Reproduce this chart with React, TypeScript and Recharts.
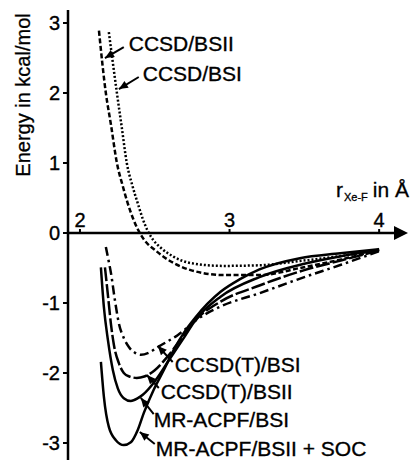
import { Line, LineChart, ReferenceDot, ReferenceLine, XAxis, YAxis } from "recharts";

const FONT = "'Liberation Sans', Arial, Helvetica, sans-serif";

// [r in Å, energy in kcal/mol]
const ccsdBSII = [[2.127, 2.89], [2.173, 2.0], [2.207, 1.55], [2.247, 1.0], [2.285, 0.68], [2.32, 0.42], [2.36, 0.18], [2.4, 0], [2.45, -0.15], [2.5, -0.24], [2.54, -0.31], [2.627, -0.43], [2.74, -0.53], [2.96, -0.6], [3.21, -0.6], [3.47, -0.5], [3.74, -0.38], [4.0, -0.24]];
const ccsdBSI = [[2.193, 2.87], [2.247, 2.0], [2.28, 1.5], [2.313, 1.0], [2.35, 0.68], [2.387, 0.42], [2.42, 0.2], [2.453, 0.03], [2.49, -0.1], [2.54, -0.21], [2.627, -0.34], [2.74, -0.43], [2.96, -0.47], [3.21, -0.46], [3.47, -0.4], [3.74, -0.33], [4.0, -0.24]];
const ccsdtBSI = [[2.173, -0.2], [2.19, -0.38], [2.207, -0.57], [2.233, -0.95], [2.26, -1.29], [2.293, -1.5], [2.327, -1.63], [2.367, -1.71], [2.407, -1.74], [2.46, -1.71], [2.52, -1.63], [2.653, -1.46], [2.807, -1.2], [2.94, -1.05], [3.2, -0.86], [3.5, -0.63], [3.75, -0.45], [4.0, -0.26]];
const ccsdtBSII = [[2.167, -0.49], [2.19, -0.95], [2.207, -1.3], [2.227, -1.6], [2.26, -1.86], [2.293, -2.0], [2.33, -2.05], [2.38, -2.07], [2.43, -2.05], [2.5, -1.96], [2.58, -1.78], [2.67, -1.53], [2.77, -1.25], [2.94, -0.98], [3.2, -0.75], [3.5, -0.53], [3.75, -0.39], [4.0, -0.25]];
const mrBSI = [[2.14, -0.49], [2.16, -1.06], [2.187, -1.53], [2.22, -1.96], [2.253, -2.22], [2.293, -2.36], [2.34, -2.4], [2.387, -2.36], [2.42, -2.31], [2.5, -2.12], [2.6, -1.8], [2.7, -1.48], [2.77, -1.25], [2.94, -0.91], [3.2, -0.63], [3.5, -0.44], [3.75, -0.33], [4.0, -0.24]];
const mrBSIIsoc = [[2.14, -1.84], [2.16, -2.34], [2.193, -2.77], [2.24, -2.96], [2.293, -3.03], [2.34, -2.99], [2.387, -2.81], [2.427, -2.57], [2.493, -2.24], [2.56, -1.96], [2.627, -1.67], [2.693, -1.43], [2.77, -1.21], [2.94, -0.84], [3.07, -0.66], [3.2, -0.52], [3.47, -0.36], [3.74, -0.29], [4.0, -0.23]];

const yTicks = [-3, -2, -1, 0, 1, 2, 3];
const xTicks = [2, 3, 4];

const series = [
	{ name: "CCSD/BSII", points: ccsdBSII, dash: "5 2.5" },
	{ name: "CCSD/BSI", points: ccsdBSI, dash: "2 2" },
	{ name: "CCSD(T)/BSI", points: ccsdtBSI, dash: "9 4 2.5 4" },
	{ name: "CCSD(T)/BSII", points: ccsdtBSII, dash: "14 3" },
	{ name: "MR-ACPF/BSI", points: mrBSI, dash: undefined },
	{ name: "MR-ACPF/BSII + SOC", points: mrBSIIsoc, dash: undefined },
];

// label arrows: tail -> tip, in data units; text offset from the tail in px
const notes = [
	{ text: "CCSD/BSII", tail: [2.293, 2.657], tip: [2.167, 2.5], dx: 5, dy: 4 },
	{ text: "CCSD/BSI", tail: [2.393, 2.229], tip: [2.26, 2.057], dx: 4, dy: 4 },
	{ text: "CCSD(T)/BSI", tail: [2.62, -1.843], tip: [2.52, -1.614], dx: 2, dy: 10 },
	{ text: "CCSD(T)/BSII", tail: [2.527, -2.214], tip: [2.447, -2.029], dx: 2, dy: 11 },
	{ text: "MR-ACPF/BSI", tail: [2.493, -2.586], tip: [2.407, -2.357], dx: 0, dy: 13 },
	{ text: "MR-ACPF/BSII + SOC", tail: [2.5, -3.014], tip: [2.4, -2.843], dx: 1, dy: 12 },
];

const toRows = (pts: number[][]) => pts.map(([r, e]) => ({ r, e }));

function arrowHead(x1: number, y1: number, x2: number, y2: number, len: number, half: number) {
	const a = Math.atan2(y2 - y1, x2 - x1);
	const bx = x2 - len * Math.cos(a);
	const by = y2 - len * Math.sin(a);
	const nx = -Math.sin(a) * half;
	const ny = Math.cos(a) * half;
	return `${x2},${y2} ${bx + nx},${by + ny} ${bx - nx},${by - ny}`;
}

const noteShape = (text: string, dx: number, dy: number) => (p: any) => {
	const { x1, y1, x2, y2 } = p;
	return (
		<g>
			<line x1={x1} y1={y1} x2={x2} y2={y2} stroke="#000" strokeWidth={2} />
			<polygon points={arrowHead(x1, y1, x2, y2, 9, 4)} fill="#000" />
			<text x={x1 + dx} y={y1 + dy} fontSize={21} fontFamily={FONT} fill="#000" stroke="#000" strokeWidth={0.35}>
				{text}
			</text>
		</g>
	);
};

const axisShape = (p: any) => {
	const { x1, y1, x2, y2 } = p;
	return (
		<g>
			<line x1={x1} y1={y1} x2={x2 - 8} y2={y2} stroke="#000" strokeWidth={2.5} />
			<polygon points={arrowHead(x1, y1, x2, y2, 14, 7)} fill="#000" />
		</g>
	);
};

export default function App() {
	return (
		<div style={{ position: "absolute", left: 0, top: 0, width: 412, height: 464, background: "#fff" }}>
			<LineChart width={412} height={464} margin={{ top: 10, right: 4, bottom: 4, left: 0 }}>
				<XAxis type="number" dataKey="r" domain={[1.92, 4.193]} allowDataOverflow hide />
				<YAxis
					type="number"
					domain={[-3.243, 3.186]}
					allowDataOverflow
					ticks={yTicks}
					width={68}
					tickSize={5}
					tickMargin={3}
					axisLine={{ stroke: "#000", strokeWidth: 2.5 }}
					tickLine={{ stroke: "#000", strokeWidth: 2 }}
					tick={{ fill: "#000", fontSize: 20, fontFamily: FONT, stroke: "#000", strokeWidth: 0.35 }}
				/>
				<ReferenceLine segment={[{ x: 1.92, y: 0 }, { x: 4.193, y: 0 }]} shape={axisShape} ifOverflow="visible" />
				{xTicks.map((t) => (
					<ReferenceDot
						key={t}
						x={t}
						y={0}
						r={2}
						ifOverflow="visible"
						shape={(p: any) => (
							<g>
								<line x1={p.cx} x2={p.cx} y1={p.cy - 4} y2={p.cy} stroke="#000" strokeWidth={2} />
								<text x={p.cx} y={p.cy - 6} textAnchor="middle" fontSize={20} fontFamily={FONT} fill="#000" stroke="#000" strokeWidth={0.35}>
									{t}
								</text>
							</g>
						)}
					/>
				))}
				{series.map((s) => (
					<Line
						key={s.name}
						data={toRows(s.points)}
						dataKey="e"
						type="monotone"
						stroke="#000"
						strokeWidth={2.5}
						strokeDasharray={s.dash}
						dot={false}
						activeDot={false}
						isAnimationActive={false}
					/>
				))}
				{notes.map((n) => (
					<ReferenceLine
						key={n.text}
						segment={[{ x: n.tail[0], y: n.tail[1] }, { x: n.tip[0], y: n.tip[1] }]}
						shape={noteShape(n.text, n.dx, n.dy)}
						ifOverflow="visible"
					/>
				))}
			</LineChart>
			<svg width={412} height={464} style={{ position: "absolute", left: 0, top: 0, pointerEvents: "none" }}>
				<text
					x={23}
					y={95}
					transform="rotate(-90 23 95)"
					textAnchor="middle"
					dominantBaseline="central"
					fontSize={20}
					fontFamily={FONT}
					fill="#000"
					stroke="#000"
					strokeWidth={0.3}
				>
					Energy in kcal/mol
				</text>
				<text x={336} y={197} fontSize={21} fontFamily={FONT} fill="#000" stroke="#000" strokeWidth={0.3}>
					r
					<tspan fontSize={11} dy={4} dx={1}>
						Xe-F
					</tspan>
					<tspan dy={-4} dx={5}>
						{"in Å"}
					</tspan>
				</text>
			</svg>
		</div>
	);
}
